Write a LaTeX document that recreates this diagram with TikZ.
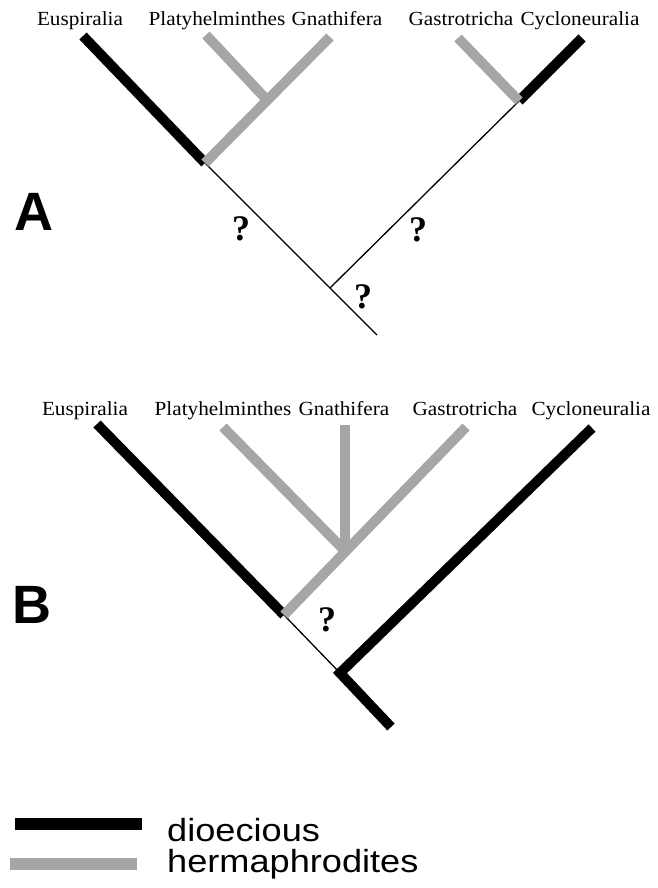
\documentclass[tikz,border=0pt]{standalone}
\usepackage{fontspec}
\setmainfont{Liberation Serif}
\newfontfamily\legendfont{Liberation Sans}
\definecolor{hgray}{RGB}{166,166,166}
\begin{document}
\begin{tikzpicture}[x=1pt,y=-1pt,
  dio/.style={line width=10pt,black},
  herm/.style={line width=10pt,hgray},
  stemline/.style={line width=1.3pt,black},
  taxon/.style={anchor=base,inner sep=0pt,font=\fontsize{20}{24}\selectfont},
  qmark/.style={inner sep=0pt,font=\fontsize{36}{40}\selectfont\bfseries},
  panel/.style={inner sep=0pt,font=\legendfont\fontsize{54}{60}\selectfont\bfseries},
  legtext/.style={anchor=base west,inner sep=0pt,font=\legendfont\fontsize{32}{36}\selectfont},
  legbar/.style={line width=12pt}]
\useasboundingbox (0,0) rectangle (657,888);

% ---------- Tree A ----------
\coordinate (a1) at (205,163);
\coordinate (a2) at (330,288);
\coordinate (a3) at (519,101);
\coordinate (aroot) at (377,335);
\coordinate (ahj) at (266,99);
\coordinate (aEu) at (83,36);
\coordinate (aPl) at (206,35);
\coordinate (aGn) at (330,37);
\coordinate (aGa) at (458,38);
\coordinate (aCy) at (582,38);

\node[taxon] (lEuA) at (80,26) {\scalebox{1.06}[1]{Euspiralia}};
\node[taxon] (lPlA) at (217,26) {\scalebox{1.06}[1]{Platyhelminthes}};
\node[taxon] (lGnA) at (337,26) {\scalebox{1.06}[1]{Gnathifera}};
\node[taxon] (lGaA) at (461,26) {\scalebox{1.06}[1]{Gastrotricha}};
\node[taxon] (lCyA) at (580,26) {\scalebox{1.06}[1]{Cycloneuralia}};

\draw[stemline] (a1) -- (aroot);
\draw[stemline] (a2) -- (a3);
\draw[dio] (aEu) -- (a1);
\draw[dio] (a3) -- (aCy);
\draw[herm] (a1) -- (aGn);
\draw[herm] (aPl) -- (ahj);
\draw[herm] (a3) -- (aGa);

\node[qmark] (qA1) at (241,229) {?};
\node[qmark] (qA2) at (418,230) {?};
\node[qmark] (qA3) at (363,297) {?};
\node[panel] (pA) at (34,212) {A};

% ---------- Tree B ----------
\coordinate (b1) at (284,615);
\coordinate (bc) at (340,673);
\coordinate (broot) at (391,727);
\coordinate (bj) at (345,551);
\coordinate (bEu) at (97,424);
\coordinate (bPl) at (223,427);
\coordinate (bGn) at (345,425);
\coordinate (bGa) at (466,427);
\coordinate (bCy) at (592,428);

\node[taxon] (lEuB) at (85,415) {\scalebox{1.06}[1]{Euspiralia}};
\node[taxon] (lPlB) at (223,415) {\scalebox{1.06}[1]{Platyhelminthes}};
\node[taxon] (lGnB) at (344,415) {\scalebox{1.06}[1]{Gnathifera}};
\node[taxon] (lGaB) at (465,415) {\scalebox{1.06}[1]{Gastrotricha}};
\node[taxon] (lCyB) at (591,415) {\scalebox{1.06}[1]{Cycloneuralia}};

\draw[stemline] (b1) -- (bc);
\draw[dio] (bEu) -- (b1);
\draw[dio,line join=miter] (bCy) -- (bc) -- (broot);
\draw[herm] (b1) -- (bGa);
\draw[herm] (bPl) -- (bj);
\draw[herm] (bGn) -- (bj);

\node[qmark] (qB) at (327,620) {?};
\node[panel] (pB) at (32,605) {B};

% ---------- Legend ----------
\coordinate (k1a) at (15,824);
\coordinate (k1b) at (142,824);
\coordinate (k2a) at (10,864);
\coordinate (k2b) at (137,864);
\draw[legbar,black] (k1a) -- (k1b);
\draw[legbar,hgray] (k2a) -- (k2b);
\node[legtext] (tdio) at (167,841) {\scalebox{1.13}[1]{dioecious}};
\node[legtext] (therm) at (167,872) {\scalebox{1.13}[1]{hermaphrodites}};
\end{tikzpicture}
\end{document}
